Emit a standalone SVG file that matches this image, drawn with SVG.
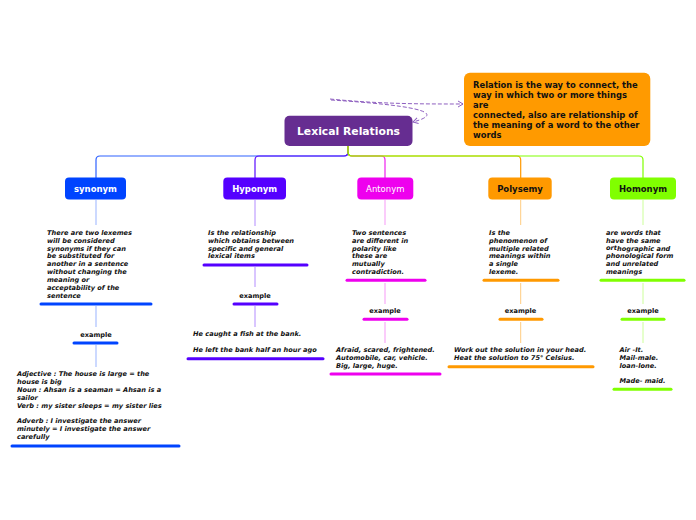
<svg xmlns="http://www.w3.org/2000/svg" width="696" height="520" viewBox="0 0 696 520">
<defs>
<marker id="arr" markerWidth="8" markerHeight="8" refX="6" refY="4" orient="auto" markerUnits="userSpaceOnUse">
<path d="M1,1 L6,4 L1,7" fill="none" stroke="#8e5fc0" stroke-width="1"/>
</marker>
</defs>
<style>
text{font-family:"DejaVu Sans",Verdana,sans-serif;}
.lbl{font-size:8.5px;font-weight:bold;text-anchor:middle;}
.body{font-size:6.6px;font-weight:bold;font-style:italic;fill:#111;}
.ex{font-size:6.6px;font-weight:bold;text-anchor:middle;fill:#111;}
.bar{stroke-width:3;stroke-linecap:round;fill:none;}
.thin{stroke-width:1;fill:none;}
.bus{stroke-width:1.2;fill:none;}
</style>
<rect width="696" height="520" fill="#ffffff"/>
<g id="connectors">
<path class="bus" stroke="#2f62ff" d="M348,146 V152 Q348,156 344,156 H100 Q96,156 96,160 V178"/>
<path class="bus" stroke="#5a0cff" d="M348,146 V152 Q348,156 344,156 H259 Q255,156 255,160 V178"/>
<path class="bus" stroke="#ee22ee" d="M348,146 V152 Q348,156 352,156 H381 Q385,156 385,160 V178"/>
<path class="bus" stroke="#ff9900" d="M348,146 V152 Q348,156 352,156 H516.7 Q520.7,156 520.7,160 V178"/>
<path class="bus" stroke="#80ff00" d="M348,146 V152 Q348,156 352,156 H639 Q643,156 643,160 V178"/>
<path fill="none" stroke="#8e5fc0" stroke-width="1" stroke-dasharray="4,2" d="M330,99 C380,104 420,104 463,104" marker-end="url(#arr)"/>
<path fill="none" stroke="#8e5fc0" stroke-width="1" stroke-dasharray="4,2" d="M331,100 C410,105 450,112 413,122" marker-end="url(#arr)"/>
<g stroke="#99b3ff" class="thin"><path d="M96,200 V225 M96,306 V327 M96,345 V367"/></g>
<g stroke="#b38cff" class="thin"><path d="M255,200 V226 M255,267 V287 M255,306 V327"/></g>
<g stroke="#f799f7" class="thin"><path d="M385,200 V225 M385,283 V304 M385,322 V343"/></g>
<g stroke="#ffcc80" class="thin"><path d="M520.7,200 V225 M520.7,283 V304 M520.7,322 V343"/></g>
<g stroke="#ccff99" class="thin"><path d="M643,200 V225 M643,283 V304 M643,322 V343"/></g>
</g>
<g id="central">
<rect x="284.5" y="115.7" width="128" height="30.3" rx="5" fill="#662d91"/>
<text x="348.5" y="135" font-size="10.8" font-weight="bold" fill="#ffffff" text-anchor="middle">Lexical Relations</text>
</g>
<g id="callout">
<rect x="464" y="72.7" width="186.3" height="73.3" rx="6" fill="#ff9a00"/>
<g font-size="8.4" font-weight="bold" fill="#111">
<text x="473" y="87.5">Relation is the way to connect, the</text>
<text x="473" y="98">way in which two or more things</text>
<text x="473" y="107.7">are</text>
<text x="473" y="117.5">connected, also are relationship of</text>
<text x="473" y="128">the meaning of a word to the other</text>
<text x="473" y="138.3">words</text>
</g>
</g>
<g id="synonym">
<rect x="65" y="177.5" width="61" height="22" rx="4" fill="#0044ff"/>
<text class="lbl" x="95.5" y="192" fill="#ffffff">synonym</text>
<g class="body">
<text x="47" y="234.8">There are two lexemes</text>
<text x="47" y="242.5">will be considered</text>
<text x="47" y="250.5">synonyms if they can</text>
<text x="47" y="258.2">be substituted for</text>
<text x="47" y="265.8">another in a sentence</text>
<text x="47" y="273.8">without changing the</text>
<text x="47" y="281.5">meaning or</text>
<text x="47" y="289.5">acceptability of the</text>
<text x="47" y="297.8">sentence</text>
</g>
<line class="bar" stroke="#0044ff" x1="41" y1="304" x2="151" y2="304"/>
<text class="ex" x="96" y="337.2">example</text>
<line class="bar" stroke="#0044ff" x1="74" y1="343" x2="117" y2="343"/>
<g class="body">
<text x="17" y="375.8">Adjective : The house is large = the</text>
<text x="17" y="383.8">house is big</text>
<text x="17" y="391.8">Noun : Ahsan is a seaman = Ahsan is a</text>
<text x="17" y="399.8">sailor</text>
<text x="17" y="407.8">Verb : my sister sleeps = my sister lies</text>
<text x="17" y="422.8">Adverb : I investigate the an<tspan dy="0.6">swer</tspan></text>
<text x="17" y="431">minutely = I investigate the answer</text>
<text x="17" y="438.8">carefully</text>
</g>
<line class="bar" stroke="#0044ff" x1="12" y1="446" x2="179" y2="446"/>
</g>
<g id="hyponym">
<rect x="223.3" y="177.5" width="62.7" height="22" rx="4" fill="#5500ff"/>
<text class="lbl" x="254.7" y="192" fill="#ffffff">Hyponym</text>
<g class="body">
<text x="208" y="234.8">Is the relationship</text>
<text x="208" y="242.8">which obtains between</text>
<text x="208" y="250.5">specific and general</text>
<text x="208" y="258.2">lexical items</text>
</g>
<line class="bar" stroke="#5500ff" x1="204" y1="265" x2="307" y2="265"/>
<text class="ex" x="255" y="297.5">example</text>
<line class="bar" stroke="#5500ff" x1="234" y1="304" x2="277" y2="304"/>
<g class="body">
<text x="193" y="335.8">He caught a fish at the bank.</text>
<text x="193" y="352.2">He left the bank half an hour ago</text>
</g>
<line class="bar" stroke="#5500ff" x1="188" y1="358.7" x2="323" y2="358.7"/>
</g>
<g id="antonym">
<rect x="357.3" y="177.5" width="56" height="22" rx="4" fill="#ee00ee"/>
<text x="385.3" y="192" font-size="8.5" fill="#ffffff" text-anchor="middle">Antonym</text>
<g class="body">
<text x="352" y="234.8">Two sentences</text>
<text x="352" y="242.8">are different in</text>
<text x="352" y="250.5">polarity like</text>
<text x="352" y="258.2">these are</text>
<text x="352" y="265.8">mutually</text>
<text x="352" y="273.8">contradiction.</text>
</g>
<line class="bar" stroke="#ee00ee" x1="347" y1="280.3" x2="425" y2="280.3"/>
<text class="ex" x="385" y="313.2">example</text>
<line class="bar" stroke="#ee00ee" x1="364" y1="319.3" x2="407" y2="319.3"/>
<g class="body">
<text x="336" y="351.8">Afraid, scared, frightened.</text>
<text x="336" y="359.8">Automobile, car, vehicle.</text>
<text x="336" y="367.8">Big, large, huge.</text>
</g>
<line class="bar" stroke="#ee00ee" x1="331" y1="374" x2="440" y2="374"/>
</g>
<g id="polysemy">
<rect x="488.3" y="177.5" width="63.4" height="22" rx="4" fill="#ff9900"/>
<text class="lbl" x="520" y="192" fill="#111">Polysemy</text>
<g class="body">
<text x="489" y="234.8">Is the</text>
<text x="489" y="242.8">phenomenon of</text>
<text x="489" y="250.5">multiple related</text>
<text x="489" y="258.2">meanings within</text>
<text x="489" y="265.8">a single</text>
<text x="489" y="273.8">lexeme.</text>
</g>
<line class="bar" stroke="#ff9900" x1="484" y1="280.3" x2="558" y2="280.3"/>
<text class="ex" x="520.5" y="313.2">example</text>
<line class="bar" stroke="#ff9900" x1="500" y1="319.3" x2="542" y2="319.3"/>
<g class="body">
<text x="454" y="351.8">Work out the solution in your head.</text>
<text x="454" y="359.8">Heat the solution to 75° Celsius.</text>
</g>
<line class="bar" stroke="#ff9900" x1="449" y1="366.7" x2="593" y2="366.7"/>
</g>
<g id="homonym">
<rect x="610" y="177.5" width="66" height="22" rx="4" fill="#80ff00"/>
<text class="lbl" x="643" y="192" fill="#111">Homonym</text>
<g class="body">
<text x="606" y="234.8">are words that</text>
<text x="606" y="242.8">have the same</text>
<text x="606" y="249.8">ort<tspan dy="0.8">hographic and</tspan></text>
<text x="606" y="258.2">phonological form</text>
<text x="606" y="265.8">and unrelated</text>
<text x="606" y="273.8">meanings</text>
</g>
<line class="bar" stroke="#80ff00" x1="601" y1="280.3" x2="684" y2="280.3"/>
<text class="ex" x="643" y="313.2">example</text>
<line class="bar" stroke="#80ff00" x1="622" y1="319.3" x2="664" y2="319.3"/>
<g class="body">
<text x="619.5" y="351.8">Air -It.</text>
<text x="619.5" y="359.8">Mail-male.</text>
<text x="619.5" y="367.8">loan-lone.</text>
<text x="619.5" y="383.2">Made- maid.</text>
</g>
<line class="bar" stroke="#80ff00" x1="614" y1="389.3" x2="671" y2="389.3"/>
</g>
</svg>
